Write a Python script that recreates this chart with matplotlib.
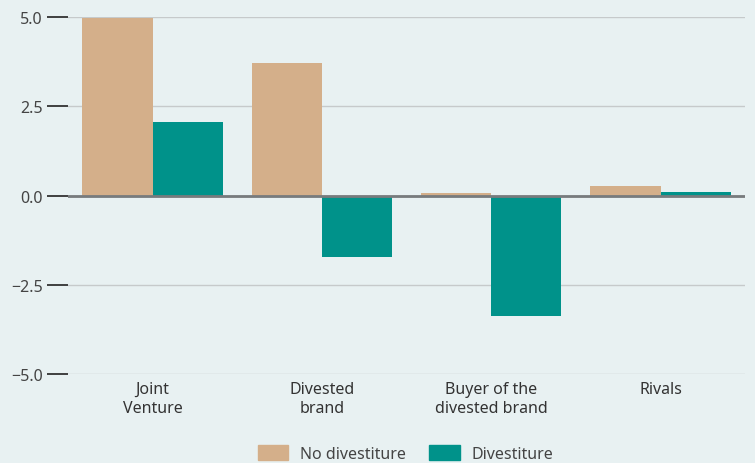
import numpy as np
import matplotlib.pyplot as plt
from matplotlib.patches import Patch

plt.rcParams['font.family'] = ['Noto Sans', 'DejaVu Sans']

categories = ['Joint\nVenture', 'Divested\nbrand', 'Buyer of the\ndivested brand', 'Rivals']
no_divestiture = [4.97, 3.71, 0.08, 0.27]
divestiture = [2.06, -1.72, -3.38, 0.11]
yticks = [-5.0, -2.5, 0.0, 2.5, 5.0]

bg = '#e8f1f2'
tan = '#d4af8a'
teal = '#00928a'

fig = plt.figure(figsize=(7.55, 4.64), dpi=100, facecolor=bg)
ax = fig.add_axes([0.090, 0.192, 0.897, 0.769], facecolor=bg)

x = np.arange(len(categories))
w = 0.415
ax.bar(x - w / 2, no_divestiture, w, color=tan, zorder=3, clip_on=False)
ax.bar(x + w / 2, divestiture, w, color=teal, zorder=3, clip_on=False)

ax.set_xlim(-0.5, 3.5)
ax.set_ylim(-5, 5)
ax.set_yticks(yticks)
ax.set_yticklabels(['\u22125.0', '\u22122.5', '0.0', '2.5', '5.0'])
ax.yaxis.grid(True, color='#c6cacb', linewidth=1.0, zorder=0)
ax.axhline(0, color='#777b7d', linewidth=2, zorder=4)

ax.set_xticks(x)
ax.set_xticklabels(categories, linespacing=1.3)
ax.tick_params(axis='x', length=0, pad=5, labelsize=11.5, labelcolor='#333333')
ax.tick_params(axis='y', length=15, width=1.2, color='#222222', pad=3,
               labelsize=11.5, labelcolor='#444444')

for s in ax.spines.values():
    s.set_visible(False)

handles = [Patch(color=tan, label='No divestiture'), Patch(color=teal, label='Divestiture')]
fig.legend(handles=handles, loc='lower center', bbox_to_anchor=(0.537, -0.028), ncol=2,
           frameon=False, fontsize=11.5, handlelength=1.9, handleheight=1.1,
           handletextpad=0.7, columnspacing=1.5, labelcolor='#444444')

fig.savefig('out.png', dpi=100, facecolor=bg)
